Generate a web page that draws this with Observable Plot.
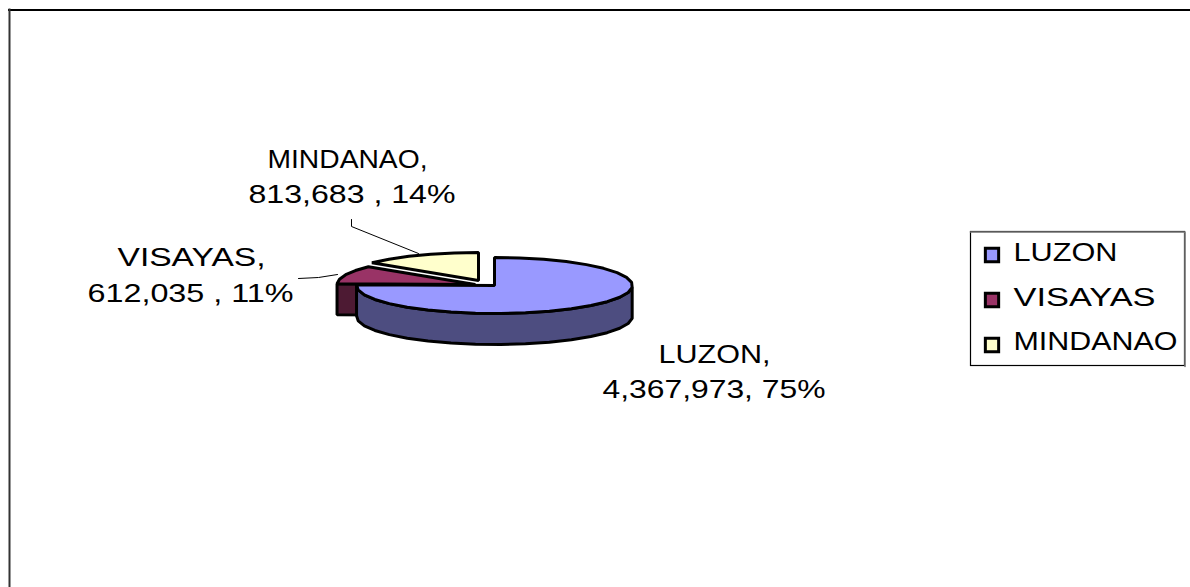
<!DOCTYPE html>
<html>
<head>
<meta charset="utf-8">
<script src="https://cdn.jsdelivr.net/npm/d3@7"></script>
<script src="https://cdn.jsdelivr.net/npm/@observablehq/plot@0.6"></script>
<style>html,body{margin:0;padding:0;background:#fff}svg{display:block}</style>
</head>
<body>
<div id="chart"></div>
<script>
const regions = ["LUZON", "VISAYAS", "MINDANAO"];
const populations = [4367973, 612035, 813683];
const popLabels = ["4,367,973", "612,035 ", "813,683 "];
const percentLabels = ["75%", "11%", "14%"];
const topColors = ["#9999ff", "#993366", "#ffffcc"];
const sideColors = ["#4d4d80", "#4d1a33", "#808066"];

const W = 1190, H = 587;
const rx = 138, ry = 28, depth = 31;
const centers = [[494, 285], [474.5, 284], [478, 280]];
const segments = [26, 4, 5];
const total = d3.sum(populations);
const shares = populations.map(v => v / total);

// slice angular extents, clockwise from 12 o'clock
let acc = 0;
const spans = shares.map(s => { const a = [acc, acc + s]; acc += s; return a; });
const rimPt = (c, t, dy = 0) => {
  const a = t * 2 * Math.PI;
  return {x: c[0] + rx * Math.sin(a), y: c[1] - ry * Math.cos(a) + dy};
};
const arc = (i, dy = 0) => d3.range(0, segments[i] + 1).map(k =>
  rimPt(centers[i], spans[i][0] + (spans[i][1] - spans[i][0]) * k / segments[i], dy));

const polys = [];
const addPoly = (key, color, pts) => pts.forEach(p => polys.push({...p, key, color}));
[2, 1, 0].forEach(i => {
  const c = centers[i];
  if (i === 1) {
    const e = rimPt(c, spans[i][0]);
    addPoly("cut" + i, sideColors[i], [e, {x: c[0], y: c[1]}, {x: c[0], y: c[1] + depth}, {x: e.x, y: e.y + depth}]);
  }
  if (i === 0) {
    const lower = arc(i).filter(p => p.y >= c[1] - 1);
    addPoly("wall" + i, sideColors[i], [...lower, ...lower.map(p => ({x: p.x, y: p.y + depth})).reverse()]);
  }
  addPoly("top" + i, topColors[i], [{x: c[0], y: c[1]}, ...arc(i), {x: c[0], y: c[1]}]);
});

const labelLines = [
  {text: "LUZON,", x: 714, y: 354.5, w: 112},
  {text: popLabels[0] + ", " + percentLabels[0], x: 713.5, y: 389.5, w: 223},
  {text: "VISAYAS,", x: 191, y: 257.5, w: 148},
  {text: popLabels[1] + ", " + percentLabels[1], x: 190, y: 293.5, w: 206},
  {text: "MINDANAO,", x: 347, y: 159, w: 160},
  {text: popLabels[2] + ", " + percentLabels[2], x: 351.5, y: 194.5, w: 207}
];
const leaders = [
  {key: "v", x: 298, y: 278}, {key: "v", x: 318, y: 277}, {key: "v", x: 337, y: 274},
  {key: "m", x: 351, y: 219}, {key: "m", x: 351, y: 226}, {key: "m", x: 418, y: 253}
];
const legendY = [252.5, 297.5, 341.5];
const legendWidths = [104, 142, 164];
const legendRows = regions.map((r, i) => ({r, y: legendY[i], w: legendWidths[i]}));
const legendMarkY = [254.5, 299.5, 344.5];
const legendMarks = regions.map((r, i) => ({y: legendMarkY[i], c: topColors[i]}));

const frameTop = [{x1: 8, x2: 1190, y: 9.5}];
const frameLeft = [{x: 9, y1: 8.5, y2: 587}];
const legendBox = [{x1: 970.5, x2: 1184.5, y1: 231.5, y2: 365.5}];
const legendShade = [{key: "s", x: 970, y: 231.5}, {key: "s", x: 1184.5, y: 231.5}, {key: "s", x: 1184.5, y: 366}];

const chart = Plot.plot({
  width: W, height: H,
  margin: 0,
  x: {type: "linear", domain: [0, W], range: [0, W], axis: null},
  y: {type: "linear", domain: [0, H], range: [0, H], axis: null},
  marks: [
    Plot.ruleY(frameTop, {x1: "x1", x2: "x2", y: "y", stroke: "#000", strokeWidth: 2}),
    Plot.ruleX(frameLeft, {x: "x", y1: "y1", y2: "y2", stroke: "#333", strokeWidth: 2}),
    Plot.line(polys, {x: "x", y: "y", z: "key", fill: d => d.color, stroke: "#000", strokeWidth: 3, strokeLinejoin: "miter", curve: "linear-closed"}),
    Plot.line(leaders, {x: "x", y: "y", z: "key", stroke: "#000", strokeWidth: 1}),
    Plot.text(labelLines, {x: "x", y: "y", text: "text", fontSize: 26, fill: "#000", textAnchor: "middle", lineAnchor: "middle", className: "stretch"}),
    Plot.rect(legendBox, {x1: "x1", x2: "x2", y1: "y1", y2: "y2", fill: "#fff", stroke: "#000", strokeWidth: 1.2}),
    Plot.line(legendShade, {x: "x", y: "y", z: "key", stroke: "#777", strokeWidth: 1.6}),
    Plot.dot(legendMarks, {x: () => 991.5, y: "y", symbol: "square", r: 7.5, fill: "c", stroke: "#000", strokeWidth: 3}),
    Plot.text(legendRows, {x: () => 1013, y: "y", text: "r", fontSize: 26, fill: "#000", textAnchor: "start", lineAnchor: "middle", className: "stretch"})
  ],
  style: {fontFamily: "'Liberation Sans', Arial, sans-serif", background: "#fff"}
});
// the source rendering stretches its text horizontally: fit each label to its measured width
const widths = [...labelLines.map(d => d.w), ...legendRows.map(d => d.w)];
chart.querySelectorAll("g.stretch text").forEach((t, i) => {
  t.setAttribute("textLength", widths[i]);
  t.setAttribute("lengthAdjust", "spacingAndGlyphs");
});
document.getElementById("chart").append(chart);
</script>
</body>
</html>
